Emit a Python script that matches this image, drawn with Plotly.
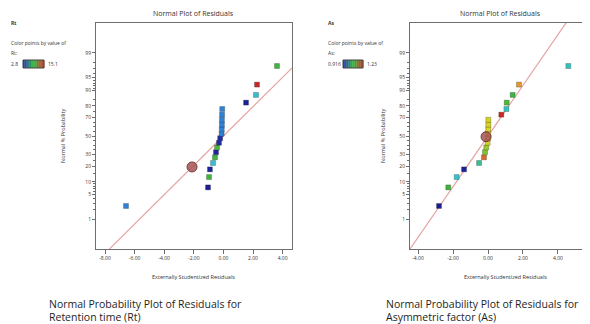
import plotly.graph_objects as go
from statistics import NormalDist

_nd = NormalDist()


def zscore(pct_list):
    return [_nd.inv_cdf(p / 100.0) for p in pct_list]


# ---------------- data ----------------
prob_tick_vals = [1, 5, 10, 20, 30, 50, 70, 80, 90, 95, 99]
prob_tick_text = ["1", "5", "10", "20", "30", "50", "70", "80", "90", "95", "99"]
prob_minor_vals = [2, 3, 4, 6, 7, 8, 9, 15, 25, 35, 40, 45, 55, 60, 65, 75, 85,
                   91, 92, 93, 94, 96, 97, 98]

plot_pct = [2.5, 7.5, 12.5, 17.5, 22.5, 27.5, 32.5, 37.5, 42.5, 47.5,
            52.5, 57.5, 62.5, 67.5, 72.5, 77.5, 82.5, 87.5, 92.5, 97.5]

# Retention time (Rt)
rt_resid = [-6.58, -1.04, -0.97, -0.91, -0.70, -0.57, -0.50, -0.43, -0.30, -0.22,
            -0.12, -0.11, -0.10, -0.10, -0.09, -0.08, 1.53, 2.20, 2.27, 3.62]
rt_value = [5.3, 2.8, 9.0, 3.0, 7.0, 9.0, 3.0, 9.2, 3.2, 3.2,
            5.3, 5.3, 5.3, 5.3, 5.3, 5.3, 2.9, 7.0, 15.1, 9.0]
rt_min, rt_max = 2.8, 15.1
rt_x_ticks = [-8, -6, -4, -2, 0, 2, 4]
rt_x_text = ["-8.00", "-6.00", "-4.00", "-2.00", "0.00", "2.00", "4.00"]
rt_line_resid = [-9.0, 5.0]
rt_line_pct = [0.0108, 98.0]
rt_flag_resid = [-2.12]
rt_flag_pct = [19.3]

# Asymmetric factor (As)
as_resid = [-2.80, -2.27, -1.79, -1.37, -0.51, -0.23, -0.17, -0.10, -0.02, 0.00,
            0.01, 0.01, 0.02, 0.02, 0.76, 1.05, 1.07, 1.41, 1.77, 4.59]
as_value = [0.916, 1.073, 1.026, 0.92, 1.045, 1.20, 1.10, 1.11, 1.135, 1.135,
            1.136, 1.136, 1.137, 1.137, 1.23, 1.03, 1.08, 1.07, 1.18, 1.03]
as_min, as_max = 0.916, 1.23
as_x_ticks = [-4, -2, 0, 2, 4, 6]
as_x_text = ["-4.00", "-2.00", "0.00", "2.00", "4.00", "6.00"]
as_line_resid = [-4.6, 4.6]
as_line_pct = [0.0545, 99.9455]
as_flag_resid = [-0.11]
as_flag_pct = [49.2]

# ---------------- styling ----------------
# the page body keeps its default 8px margin, so the figure is offset by 8px
OFF = 8
W, H = 590 - OFF, 324 - OFF
colorscale = [[0.0, "#1c1c96"], [0.2, "#2f80d6"], [0.35, "#35c2cc"],
              [0.5, "#3cb43c"], [0.7, "#d6d620"], [0.85, "#e8922c"], [1.0, "#c82828"]]
legend_scale = [[0.0, "#1e2fb8"], [0.5, "#2fb83a"], [1.0, "#c83020"]]
FONT = "Open Sans"
AX = "#6e6e6e"
TXT = "#333333"


def px_x(x):
    return (x - OFF) / W


def px_y(y):
    return 1 - (y - OFF) / H


def interp_color(scale, t):
    for (a, ca), (b, cb) in zip(scale[:-1], scale[1:]):
        if a <= t <= b:
            f = 0 if b == a else (t - a) / (b - a)
            c1 = [int(ca[i:i + 2], 16) for i in (1, 3, 5)]
            c2 = [int(cb[i:i + 2], 16) for i in (1, 3, 5)]
            c = [round(c1[k] + (c2[k] - c1[k]) * f) for k in range(3)]
            return "rgb(%d,%d,%d)" % tuple(c)
    return scale[-1][1]


fig = go.Figure()

panels = [
    dict(xa="x", ya="y", resid=rt_resid, val=rt_value, cmin=rt_min, cmax=rt_max,
         lx=rt_line_resid, lp=rt_line_pct, fx=rt_flag_resid, fp=rt_flag_pct),
    dict(xa="x2", ya="y2", resid=as_resid, val=as_value, cmin=as_min, cmax=as_max,
         lx=as_line_resid, lp=as_line_pct, fx=as_flag_resid, fp=as_flag_pct),
]

for p in panels:
    fig.add_trace(go.Scatter(
        x=p["lx"], y=zscore(p["lp"]), mode="lines", xaxis=p["xa"], yaxis=p["ya"],
        line=dict(color="#e5a3a1", width=1.2), showlegend=False, hoverinfo="skip"))
    fig.add_trace(go.Scatter(
        x=p["resid"], y=zscore(plot_pct), mode="markers", xaxis=p["xa"], yaxis=p["ya"],
        showlegend=False,
        marker=dict(symbol="square", size=5, color=p["val"], colorscale=colorscale,
                    cmin=p["cmin"], cmax=p["cmax"], showscale=False,
                    line=dict(color="rgba(40,40,40,0.45)", width=0.6))))
    fig.add_trace(go.Scatter(
        x=p["fx"], y=zscore(p["fp"]), mode="markers", xaxis=p["xa"], yaxis=p["ya"],
        showlegend=False,
        marker=dict(symbol="circle", size=10, color="rgba(165,85,85,0.85)",
                    line=dict(color="#7a3a3a", width=1))))

y_top, y_bot = 23, 249
z_top = 3.165
ydom = [px_y(y_bot), px_y(y_top)]

common_y = dict(range=[-z_top, z_top], tickmode="array", tickvals=zscore(prob_tick_vals),
                ticktext=prob_tick_text, ticks="outside", ticklen=3, tickcolor=AX,
                tickfont=dict(size=5, color=TXT, family=FONT), showgrid=False,
                zeroline=False, showline=True, linecolor=AX, linewidth=1,
                automargin=False,
                minor=dict(tickvals=zscore(prob_minor_vals), ticks="outside",
                           ticklen=2, tickcolor=AX, showgrid=False))
common_x = dict(tickmode="array", ticks="outside", ticklen=4, tickcolor=AX,
                tickfont=dict(size=5, color=TXT, family=FONT), showgrid=False,
                zeroline=False, showline=True, linecolor=AX, linewidth=1,
                automargin=False)

fig.update_layout(
    template="none",
    width=W, height=H, margin=dict(l=0, r=0, t=0, b=0, pad=0),
    paper_bgcolor="white", plot_bgcolor="white",
    font=dict(family=FONT, color=TXT),
    xaxis=dict(domain=[px_x(96), px_x(292)], range=[-8.608, 4.635], anchor="y",
               tickvals=rt_x_ticks, ticktext=rt_x_text, mirror=True, **common_x),
    yaxis=dict(domain=ydom, anchor="x", mirror=True, **common_y),
    xaxis2=dict(domain=[px_x(410), 1.0], range=[-4.457, 5.829], anchor="y2",
                tickvals=as_x_ticks, ticktext=as_x_text, mirror=True, **common_x),
    yaxis2=dict(domain=ydom, anchor="x2", mirror=False, **common_y),
)

ann = []
shapes = []


def add_text(x, y, text, size, xanchor="left", angle=0, color=TXT):
    ann.append(dict(x=px_x(x), y=px_y(y), xref="paper", yref="paper", text=text,
                    showarrow=False, xanchor=xanchor, yanchor="middle", textangle=angle,
                    borderpad=0, font=dict(size=size, color=color, family=FONT)))


def add_gradient(x0, x1, y0, y1, n=30):
    step = (x1 - x0) / n
    for i in range(n):
        shapes.append(dict(type="rect", xref="paper", yref="paper",
                           x0=px_x(x0 + i * step), x1=px_x(x0 + (i + 1) * step + 0.3),
                           y0=px_y(y1), y1=px_y(y0), line=dict(width=0),
                           fillcolor=interp_color(legend_scale, (i + 0.5) / n)))
    shapes.append(dict(type="rect", xref="paper", yref="paper", x0=px_x(x0), x1=px_x(x1),
                       y0=px_y(y1), y1=px_y(y0), line=dict(width=1, color="#444")))


for (cx, lbl, vmin, vmax, gx0, gx1, title_cx, ytitle_x, xtitle_cx, cap_x, cap2) in [
        (10, "Rt", "2.8", "15.1", 23, 44, 194, 63, 193, 48, "Retention time (Rt)"),
        (327, "As", "0.916", "1.23", 343, 363, 500, 383, 505, 385, "Asymmetric factor (As)")]:
    add_text(cx, 23, "<b>" + lbl + "</b>", 5)
    add_text(cx, 43, "Color points by value of", 5)
    add_text(cx, 53, lbl + ":", 5)
    add_text(cx, 64, vmin, 5)
    add_gradient(gx0, gx1, 60, 68)
    add_text(gx1 + 3, 64, vmax, 5)
    add_text(title_cx, 14, "Normal Plot of Residuals", 7, xanchor="center")
    add_text(ytitle_x, 136, "Normal % Probability", 5.5, xanchor="center", angle=-90)
    add_text(xtitle_cx, 277, "Externally Studentized Residuals", 5.5, xanchor="center")
    add_text(cap_x, 304, "Normal Probability Plot of Residuals for", 10.5, color="#1e1e1e")
    add_text(cap_x, 317, cap2, 10.5, color="#1e1e1e")

fig.update_layout(annotations=ann, shapes=shapes)
fig.write_html("out.html")
